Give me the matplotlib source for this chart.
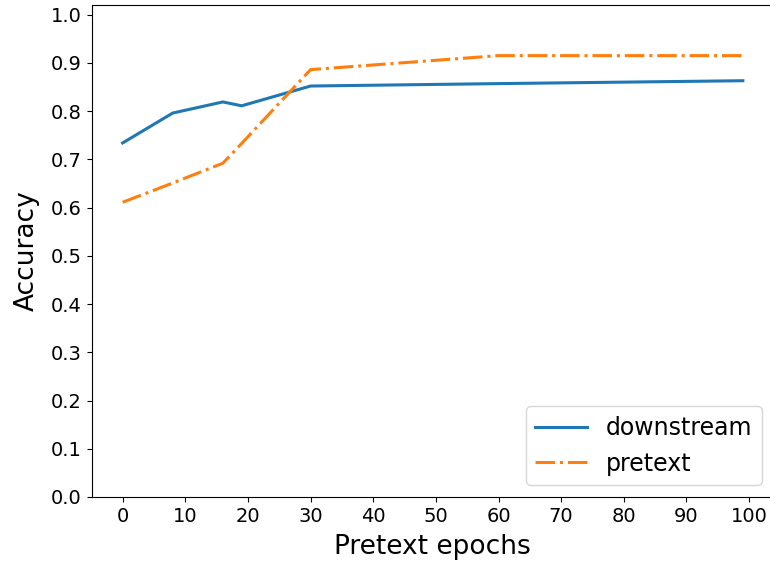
import matplotlib
matplotlib.use("Agg")
from matplotlib import pyplot as plt

# values
epochs = [0, 8, 16, 19, 30, 60, 99]
downstream = [0.734, 0.796, 0.819, 0.811, 0.852, 0.857, 0.863]
pretext = [0.611, 0.651, 0.692, 0.733, 0.886, 0.915, 0.915]

x_ticks = list(range(0, 101, 10))
y_ticks = [i / 10 for i in range(11)]

fig = plt.figure(figsize=(7.7, 5.67), dpi=100)
ax = fig.add_axes([0.119, 0.1235, 0.886, 0.8677])

ax.plot(epochs, downstream, color="#1f77b4", linewidth=2.2, label="downstream")
ax.plot(epochs, pretext, color="#ff7f0e", linewidth=2.2, linestyle="-.", label="pretext")

ax.set_xlim(-4.95, 103.95)
ax.set_ylim(0, 1.02)
ax.set_xticks(x_ticks)
ax.set_yticks(y_ticks)
ax.tick_params(labelsize=14)
ax.set_xlabel("Pretext epochs", fontsize=19, labelpad=6)
ax.set_ylabel("Accuracy", fontsize=19, labelpad=8)
ax.legend(loc="lower right", fontsize=17, handlelength=2.2)

fig.savefig("out.png", dpi=100)
